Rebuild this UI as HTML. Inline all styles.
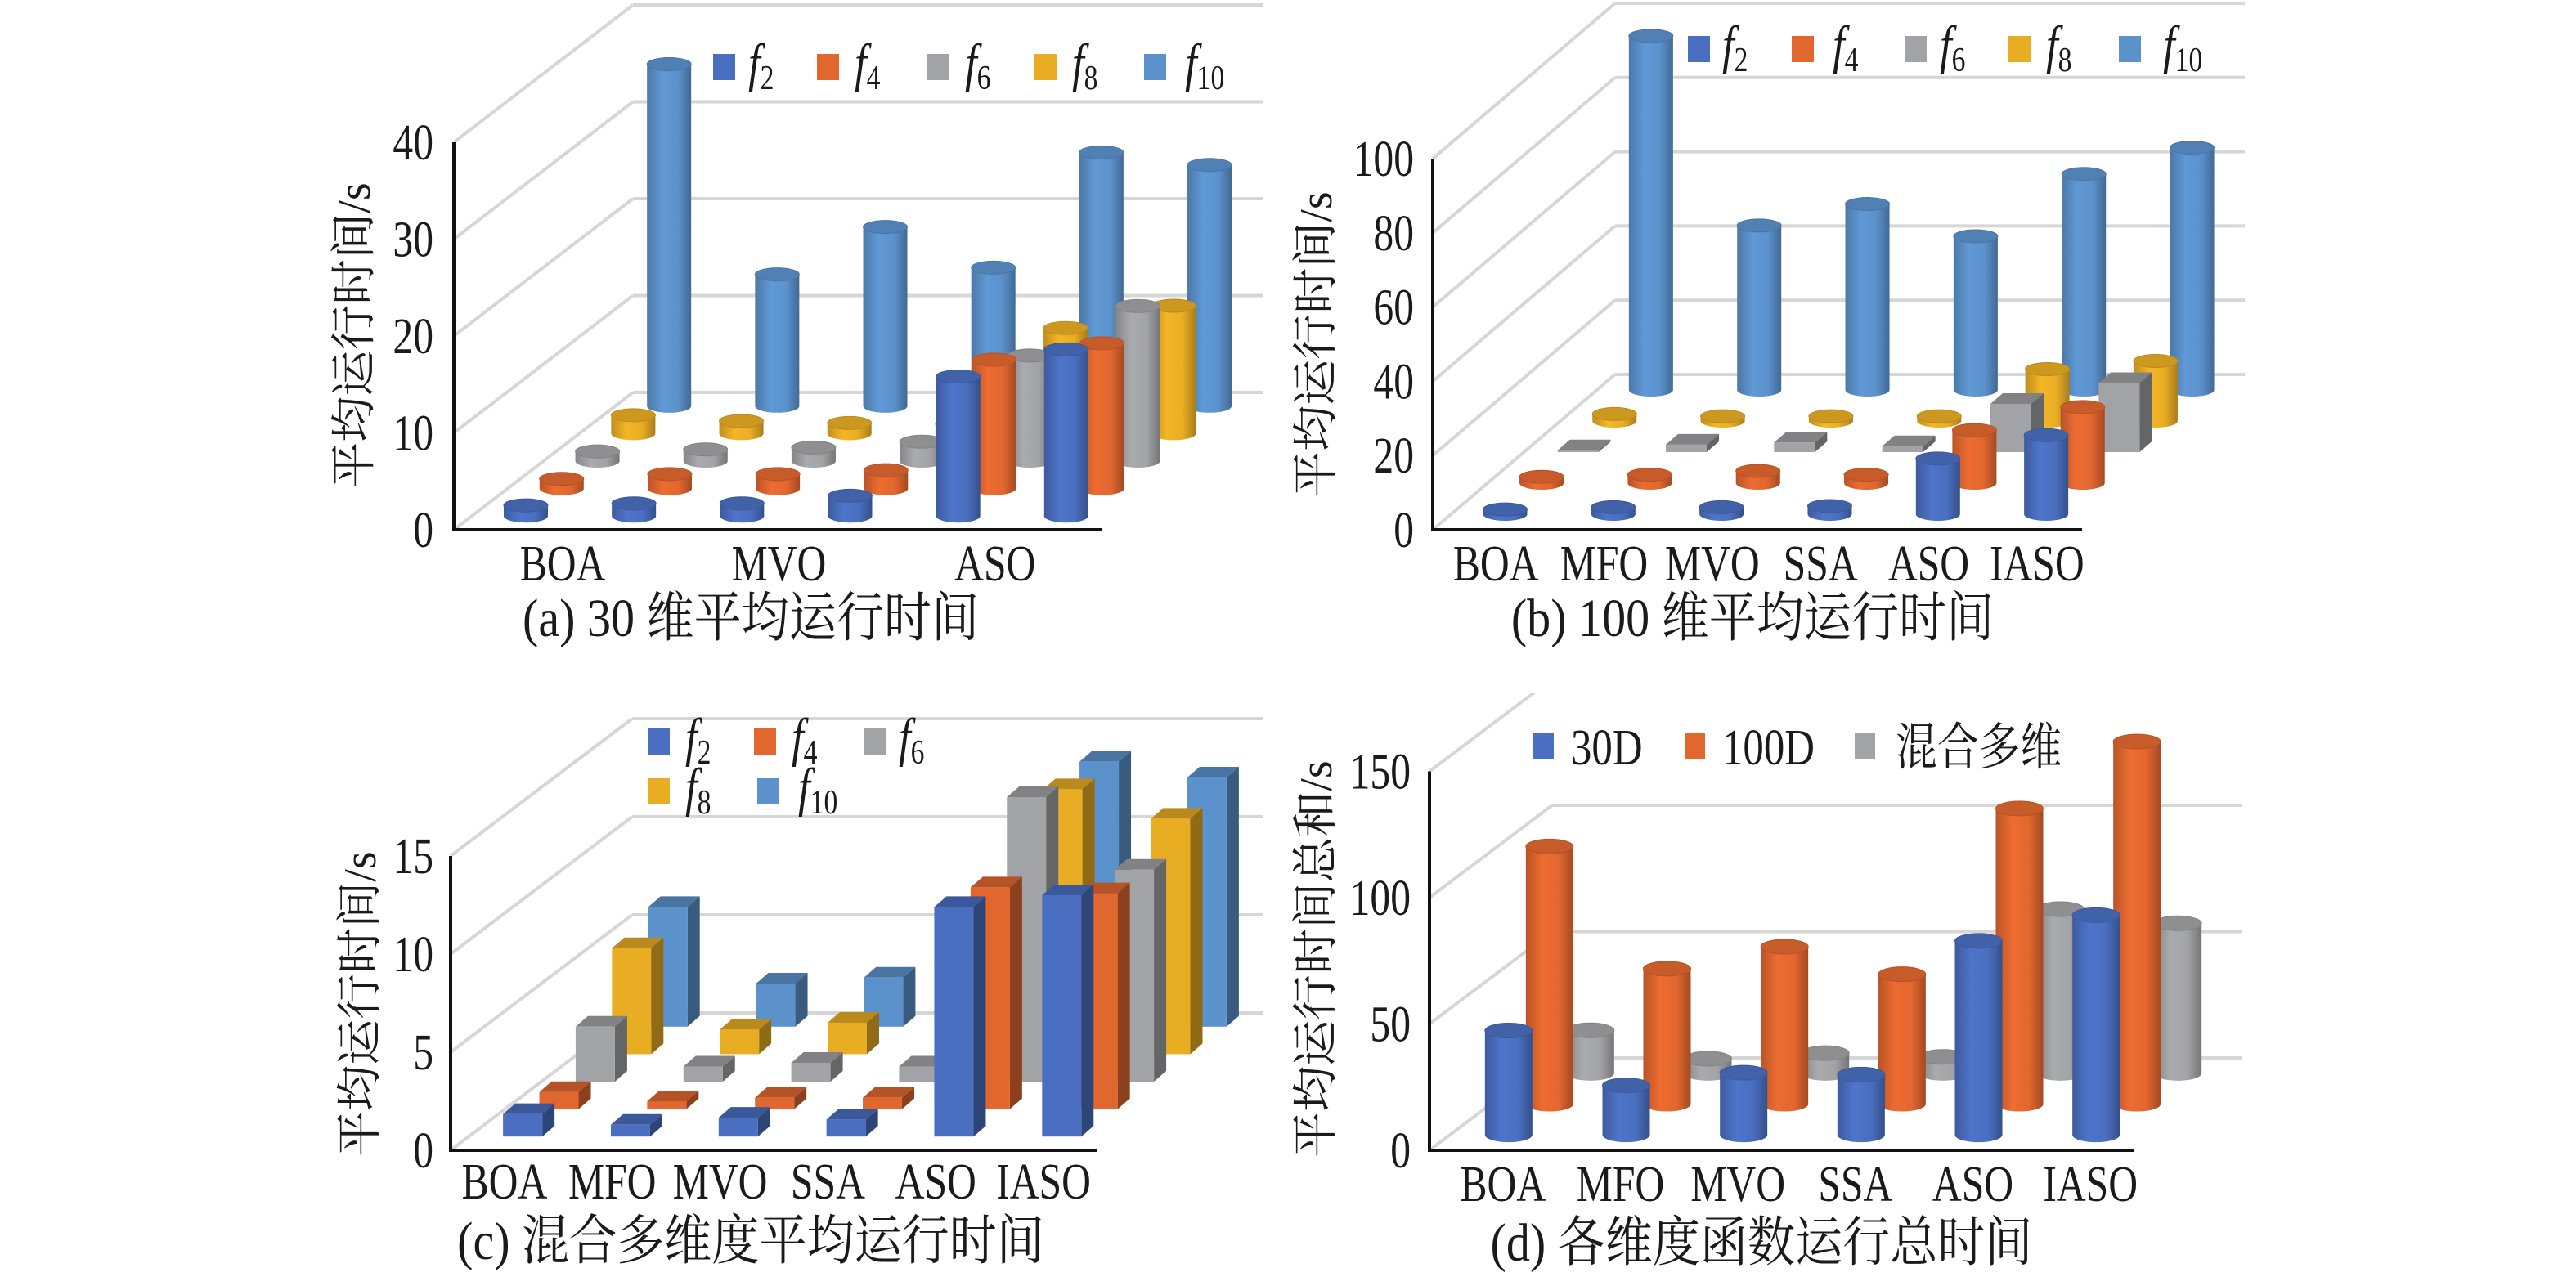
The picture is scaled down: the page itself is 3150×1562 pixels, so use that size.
<!DOCTYPE html>
<html><head><meta charset="utf-8"><title>平均运行时间</title>
<style>
html,body{margin:0;padding:0;background:#fff;}
svg{display:block;}
text{font-family:"Liberation Serif","Noto Serif CJK SC","Noto Sans CJK SC",serif;fill:#1a1a1a;}
</style></head>
<body>
<svg id="fig" xmlns="http://www.w3.org/2000/svg" width="3150" height="1562" viewBox="0 0 3150 1562">
<rect width="3150" height="1562" fill="#fff"/>
<defs id="defs"></defs>
</svg>
<script>
// ---------- data ----------
const cats = ['BOA','MFO','MVO','SSA','ASO','IASO'];
const seriesNames = ['f2','f4','f6','f8','f10'];
const dimNames = ['30D','100D','混合多维'];

const a_f2  = [1.1, 1.3, 1.3, 2.1, 14.4, 17.2];
const a_f4  = [1.0, 1.5, 1.5, 1.9, 13.3, 15.0];
const a_f6  = [1.0, 1.2, 1.4, 2.0, 10.9, 16.0];
const a_f8  = [1.9, 1.3, 1.1, 1.0, 10.9, 13.2];
const a_f10 = [35.3, 13.6, 18.5, 14.3, 26.2, 24.9];

const b_f2  = [1.3, 1.9, 1.9, 2.2, 15.0, 21.3];
const b_f4  = [1.7, 2.3, 3.3, 2.3, 14.3, 20.5];
const b_f6  = [0.5, 2.0, 2.6, 1.6, 13.0, 18.6];
const b_f8  = [1.9, 1.3, 1.3, 1.3, 14.0, 16.2];
const b_f10 = [95.4, 44.3, 50.1, 41.4, 58.2, 65.3];

const c_f2  = [1.15, 0.6, 0.96, 0.87, 11.7, 12.3];
const c_f4  = [0.87, 0.4, 0.58, 0.58, 11.3, 11.0];
const c_f6  = [2.8, 0.77, 0.96, 0.77, 14.5, 10.8];
const c_f8  = [5.4, 1.25, 1.6, 1.5, 13.5, 12.0];
const c_f10 = [6.1, 2.2, 2.5, 2.7, 13.5, 12.7];

const d_30  = [41.3, 19.6, 24.6, 23.9, 76.8, 87.0];
const d_100 = [102, 53.6, 62.3, 51.4, 117, 143.5];
const d_mix = [17, 5.8, 8.0, 6.5, 65, 59.4];

const ticksA = [0,10,20,30,40];
const ticksB = [0,20,40,60,80,100];
const ticksC = [0,5,10,15];
const ticksD = [0,50,100,150];

// ---------- styling / layout ----------
const COL = ['#4a6fc0','#e2672f','#a2a3a6','#e9ad24','#5b92cc'];
const COLD = ['#4a6fc0','#e2672f','#a2a3a6'];
const NS = 'http://www.w3.org/2000/svg';
const svg = document.getElementById('fig');
const defs = document.getElementById('defs');

function mk(tag, attrs, parent){
  const e = document.createElementNS(NS, tag);
  for (const k in attrs) e.setAttribute(k, attrs[k]);
  (parent||svg).appendChild(e);
  return e;
}
function T(x, y, str, size, anchor, sx, parent){
  const t = mk('text',{x:0, y:0, 'font-size':size, 'text-anchor':anchor, transform:'translate('+x+' '+y+') scale('+sx+' 1)'}, parent);
  t.textContent = str;
  return t;
}
function shade(hex, f){
  const n = parseInt(hex.slice(1),16);
  const r = Math.min(255,Math.round(((n>>16)&255)*f)), g = Math.min(255,Math.round(((n>>8)&255)*f)), b = Math.min(255,Math.round((n&255)*f));
  return 'rgb('+r+','+g+','+b+')';
}
const gradIds = {};
function grad(hex){
  if (gradIds[hex]) return gradIds[hex];
  const id = 'g'+hex.slice(1);
  const g = mk('linearGradient',{id:id,x1:'0',y1:'0',x2:'1',y2:'0'},defs);
  mk('stop',{offset:'0','stop-color':shade(hex,0.82)},g);
  mk('stop',{offset:'0.35','stop-color':shade(hex,1.05)},g);
  mk('stop',{offset:'0.7','stop-color':hex},g);
  mk('stop',{offset:'1','stop-color':shade(hex,0.72)},g);
  gradIds[hex] = 'url(#'+id+')';
  return gradIds[hex];
}

const panels = [
  {key:'a', x0:555, x1:1348, y0:648, ppu:11.85, dx:219, dy:-168, xEnd:1545, ticks:ticksA, max:40,
   data:[a_f2,a_f4,a_f6,a_f8,a_f10], colors:COL, shapes:['cyl','cyl','cyl','cyl','cyl'], r:27, ry:8,
   labelIdx:[0,2,4], labelOff:67, labelY:710, tickX:530, titleX:434, titleY:410, title:'平均运行时间/s',
   caption:'(a) 30 维平均运行时间', capX:918, capY:778, clipTop:0},
  {key:'b', x0:1752, x1:2546, y0:648, ppu:4.54, dx:223, dy:-190, xEnd:2745, ticks:ticksB, max:100,
   data:[b_f2,b_f4,b_f6,b_f8,b_f10], colors:COL, shapes:['cyl','cyl','box','cyl','cyl'], r:27, ry:8,
   labelIdx:[0,1,2,3,4,5], labelOff:11, labelY:710, tickX:1729, titleX:1610, titleY:421, title:'平均运行时间/s',
   caption:'(b) 100 维平均运行时间', capX:2143, capY:778, clipTop:0},
  {key:'c', x0:551, x1:1342, y0:1407, ppu:24, dx:222, dy:-168, xEnd:1545, ticks:ticksC, max:15,
   data:[c_f2,c_f4,c_f6,c_f8,c_f10], colors:COL, shapes:['box','box','box','box','box'], r:26, ry:8,
   labelIdx:[0,1,2,3,4,5], labelOff:0, labelY:1466, tickX:530, titleX:441, titleY:1228, title:'平均运行时间/s',
   caption:'(c) 混合多维度平均运行时间', capX:918, capY:1540, clipTop:840},
  {key:'d', x0:1748, x1:2610, y0:1407, ppu:3.09, dx:150, dy:-113, xEnd:2741, ticks:ticksD, max:150,
   data:[d_30,d_100,d_mix], colors:COLD, shapes:['cyl','cyl','cyl'], r:29, ry:9,
   labelIdx:[0,1,2,3,4,5], labelOff:18, labelY:1469, tickX:1725, titleX:1610, titleY:1173, title:'平均运行时间总和/s',
   caption:'(d) 各维度函数运行总时间', capX:2154, capY:1542, clipTop:848}
];

function frontY(p,v){ return p.y0 - v*p.ppu; }
function backY(p,v){ return frontY(p,v) + p.dy; }
function catX(p,c){ const cw=(p.x1-p.x0)/cats.length; return p.x0 + (c+0.5)*cw; }

function drawCyl(g, cx, by, h, r, ry, color){
  const ty = by - h;
  mk('path',{d:'M'+(cx-r)+','+ty+' L'+(cx-r)+','+by+' A'+r+' '+ry+' 0 0 0 '+(cx+r)+','+by+' L'+(cx+r)+','+ty+' Z', fill:grad(color)}, g);
  mk('ellipse',{cx:cx, cy:ty, rx:r, ry:ry, fill:shade(color,0.88), stroke:shade(color,0.8), 'stroke-width':1}, g);
}
function drawBox(g, cx, by, h, w, color){
  const ty = by - h, x = cx - w/2, sx = 15, sy = 13;
  mk('path',{d:'M'+(x+w)+','+by+' L'+(x+w+sx)+','+(by-sy)+' L'+(x+w+sx)+','+(ty-sy)+' L'+(x+w)+','+ty+' Z', fill:shade(color,0.62)}, g);
  mk('path',{d:'M'+x+','+ty+' L'+(x+sx)+','+(ty-sy)+' L'+(x+w+sx)+','+(ty-sy)+' L'+(x+w)+','+ty+' Z', fill:shade(color,0.8)}, g);
  mk('rect',{x:x, y:ty, width:w, height:Math.max(h,0.5), fill:color}, g);
}

panels.forEach(function(p){
  const clipId = 'clip'+p.key;
  const cp = mk('clipPath',{id:clipId},defs);
  mk('rect',{x:0,y:p.clipTop,width:3150,height:1562},cp);

  const g = mk('g',{'clip-path':'url(#'+clipId+')'});
  
  

  const grid = mk('g',{stroke:'#d6d6d6','stroke-width':4,fill:'none'}, g);
  
  
  p.ticks.forEach(function(v){
    const ln = mk('line',{x1:p.x0+p.dx, y1:backY(p,v), x2:p.xEnd, y2:backY(p,v)}, grid);
    
    
    const dg = mk('line',{x1:p.x0, y1:frontY(p,v), x2:p.x0+p.dx, y2:backY(p,v)}, grid);
    
    
  });

  const marks = mk('g',{}, g);
  
  
  const n = p.data.length;
  for (let s=n-1; s>=0; s--){
    const frac = (s+0.5)/n;
    const offX = p.dx*frac, offY = p.dy*frac;
    p.data[s].forEach(function(v,c){
      const cx = catX(p,c) + offX;
      const by = p.y0 + offY;
      const h = v*p.ppu;
      const mg = mk('g',{}, marks);
      
      
      if (p.shapes[s]==='box') drawBox(mg, cx, by, h, p.r*2-4, p.colors[s]);
      else drawCyl(mg, cx, by, h, p.r, p.ry, p.colors[s]);
    });
  }

  const ax = mk('path',{d:'M'+p.x0+','+frontY(p,p.max)+' L'+p.x0+','+p.y0+' L'+p.x1+','+p.y0, stroke:'#111','stroke-width':4,fill:'none'});
  
  

  p.ticks.forEach(function(v){
    const t = T(p.tickX, frontY(p,v)+21, String(v), 62, 'end', 0.8);
    
    
  });
  p.labelIdx.forEach(function(c){
    const t = T(catX(p,c)+p.labelOff, p.labelY, cats[c], 62, 'middle', 0.8);
    
    
  });
  const yt = mk('text',{x:p.titleX, y:p.titleY, 'font-size':56, 'text-anchor':'middle','dominant-baseline':'central', transform:'rotate(-90 '+p.titleX+' '+p.titleY+')'});
  yt.textContent = p.title;
  
  
  const cap = T(p.capX, p.capY, p.caption, 66, 'middle', 0.88);
  
  
});

// ---------- legends ----------
function fLegend(items, sq){
  items.forEach(function(it, i){
    const lg = mk('g',{});
    
    
    mk('rect',{x:it[0], y:it[2]-16, width:27, height:32, fill:sq[i]}, lg);
    const t = mk('text',{x:0, y:0, 'font-size':66, transform:'translate('+it[1]+' '+(it[2]+17)+') scale(0.8 1)'}, lg);
    const f = mk('tspan',{'font-style':'italic'}, t);
    f.textContent = 'f';
    const sub = mk('tspan',{'font-size':42, dy:10}, t);
    sub.textContent = seriesNames[i].slice(1);
  });
}
fLegend([[872,915,82],[999,1045,82],[1134,1180,82],[1265,1311,82],[1399,1449,82]], COL);
fLegend([[2064,2106,60],[2191,2241,60],[2329,2372,60],[2456,2502,60],[2591,2645,60]], COL);
fLegend([[792,838,907],[922,968,907],[1057,1099,907],[792,838,968],[926,976,968]], COL);
[[1875,1921],[2060,2106],[2268,2318]].forEach(function(pos,i){
  const lg = mk('g',{});
  
  
  mk('rect',{x:pos[0], y:897, width:25, height:32, fill:COLD[i]}, lg);
  const t = T(pos[1], 935, dimNames[i], 62, 'start', 0.82, lg);
});
</script>
</body></html>
